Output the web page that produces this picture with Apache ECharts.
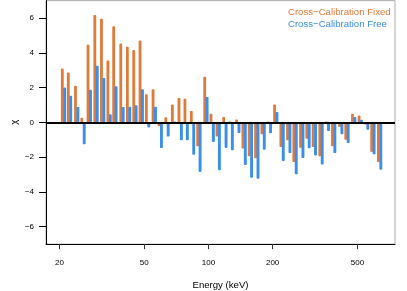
<!DOCTYPE html>
<html>
<head>
<meta charset="utf-8">
<script src="https://cdn.jsdelivr.net/npm/echarts@6/dist/echarts.min.js"></script>
<style>html,body{margin:0;padding:0;background:#fff}#c{width:407px;height:291px}</style>
</head>
<body>
<div id="c"></div>
<script>
// Energy bins (keV)
var energies = [20.9,22.3,24.1,25.8,27.6,29.7,31.9,34.2,36.4,39.3,42.2,45.2,48.4,51.8,55.7,59.4,63.9,68.6,73.7,78.6,84.2,90.2,97.3,104.1,111.1,119.4,127.8,137.3,147.0,157.3,168.6,180.4,193.1,206.9,221.5,238.0,254.8,273.9,293.1,313.8,337.3,361.0,386.7,417.2,446.5,480.0,515.3,552.1,590.8,635.1];
// residuals chi, cross-calibration fixed
var chiFixed = [3.09,2.86,2.1,0.27,4.46,6.17,5.96,3.55,5.52,4.54,4.35,4.16,4.71,1.61,1.91,-0.23,0.3,1.03,1.4,1.36,0.65,-1.38,2.62,0.5,-0.82,0.31,0.05,0.17,-1.51,-1.95,-2.07,-0.69,0.05,1.02,-1.42,-1.03,-2.28,-1.46,-0.94,-1.42,-1.95,0.05,-1.38,-0.27,-1.0,0.5,0.4,-0.12,-1.7,-2.28];
// residuals chi, cross-calibration free
var chiFree = [2.0,1.53,0.88,-1.26,1.88,3.26,2.55,0.46,2.07,0.88,0.9,0.99,1.9,-0.29,0.9,-1.48,-0.82,0.05,-1.03,-1.03,-1.86,-2.85,1.46,-1.13,-2.76,-1.47,-1.61,-0.61,-2.45,-3.18,-3.24,-1.57,-0.63,0.59,-2.22,-1.76,-2.99,-2.05,-1.49,-1.9,-2.43,-0.5,-1.76,-0.69,-1.19,0.31,0.15,-0.42,-1.84,-2.72];
var xTicks = [20, 50, 100, 200, 500];
var yTicks = [-6, -4, -2, 0, 2, 4, 6];
var seriesNames = ['Cross\u2212Calibration Fixed', 'Cross\u2212Calibration Free'];
var colors = ['#E07A3A', '#3B8FE8'];

function pairs(vals){ return energies.map(function(e,i){ return [e, vals[i]]; }); }
function makeRender(offset, w, color){
  return function(params, api){
    var e = api.value(0), v = api.value(1);
    var p1 = api.coord([e, v]), p0 = api.coord([e, 0]);
    var y = Math.min(p0[1], p1[1]);
    var h = Math.abs(p1[1] - p0[1]);
    return {type:'rect', shape:{x:p1[0] + offset - w/2, y:y, width:w, height:h, r:0.8}, style:{fill:color}};
  };
}
var font = 'Liberation Sans, Arial, Helvetica, sans-serif';
var chart = echarts.init(document.getElementById('c'), null, {renderer:'canvas'});
chart.setOption({
  animation:false,
  grid:{left:46, right:12, top:0.6, bottom:46.9, show:true, borderColor:'#aaaaaa', borderWidth:1,
        containLabel:false, outerBoundsMode:'none'},
  legend:{
    orient:'vertical', left:283, top:7.5, padding:0, itemWidth:0, itemHeight:0, itemGap:2,
    icon:'rect', selectedMode:false,
    textStyle:{fontSize:9.6, fontFamily:font},
    data:[{name:seriesNames[0], textStyle:{color:colors[0]}},{name:seriesNames[1], textStyle:{color:colors[1]}}]
  },
  xAxis:{
    type:'log', logBase:10, min:17.3, max:750,
    name:'Energy (keV)', nameLocation:'middle', nameGap:36, nameMoveOverlap:false,
    nameTextStyle:{fontSize:9.6, fontFamily:font, color:'#000'},
    axisLine:{show:true, onZero:false, lineStyle:{color:'#000', width:1}},
    axisTick:{show:true, length:5, customValues:xTicks, lineStyle:{color:'#333'}},
    axisLabel:{fontSize:8, fontFamily:font, color:'#000', margin:14.5, customValues:xTicks},
    splitLine:{show:false}, minorTick:{show:false}
  },
  yAxis:{
    type:'value', min:-7, max:7,
    name:'\u03C7', nameLocation:'middle', nameGap:27, nameMoveOverlap:false,
    nameTextStyle:{fontSize:9.6, fontFamily:font, color:'#000'},
    axisLine:{show:true, onZero:false, lineStyle:{color:'#000', width:1}},
    axisTick:{show:true, length:7, customValues:yTicks, lineStyle:{color:'#000'}},
    axisLabel:{fontSize:8, fontFamily:font, color:'#000', margin:12, customValues:yTicks,
      formatter:function(v){ return String(v).replace('-', '\u2212'); }},
    splitLine:{show:false}
  },
  series:[
    {type:'custom', name:seriesNames[0], color:colors[0], itemStyle:{color:colors[0]},
     renderItem:makeRender(-1.2, 2.8, colors[0]), data:pairs(chiFixed), encode:{x:0,y:1}, z:2},
    {type:'custom', name:seriesNames[1], color:colors[1], itemStyle:{color:colors[1]},
     renderItem:makeRender(1.2, 2.9, colors[1]), data:pairs(chiFree), encode:{x:0,y:1}, z:3,
     markLine:{silent:true, symbol:['none','none'], label:{show:false},
       lineStyle:{color:'#000', width:2, type:'solid'}, data:[{yAxis:0}], z:10}}
  ]
});
</script>
</body>
</html>
